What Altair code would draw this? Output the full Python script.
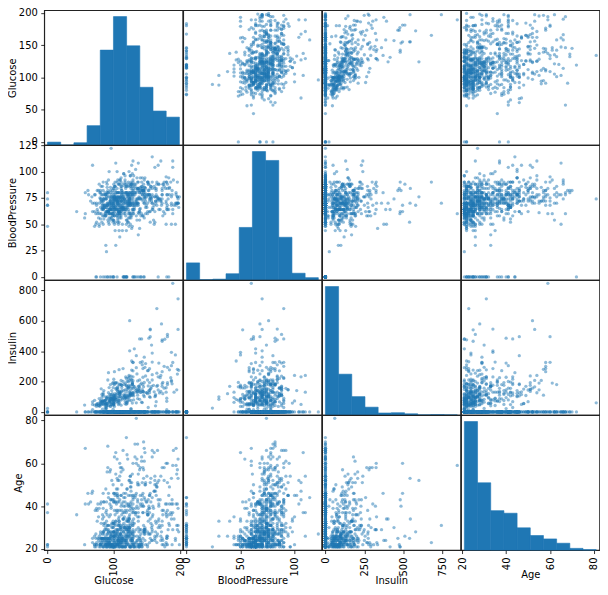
import altair as alt
import pandas as pd

alt.data_transformers.disable_max_rows()

# (Glucose, BloodPressure, Insulin, Age)
rows_a = [(148,72,0,50),(85,66,0,31),(183,64,0,32),(89,66,94,21),(137,40,168,33),(116,74,0,30),(78,50,88,26),(115,0,0,29),(197,70,543,53),(125,96,0,54),(110,92,0,30),(168,74,0,34),(139,80,0,57),(189,60,846,59),(166,72,175,51),(100,0,0,32),(118,84,230,31),(107,74,0,31),(103,30,83,33),(115,70,96,32),(126,88,235,27),(99,84,0,50),(196,90,0,41),(119,80,0,29),(143,94,146,51),(125,70,115,41),(147,76,0,43),(97,66,140,22),(145,82,110,57),(117,92,0,38),(109,75,0,60),(158,76,245,28),(88,58,54,22),(92,92,0,28),(122,78,0,45),(103,60,192,33),(138,76,0,35),(102,76,0,46),(90,68,0,27),(111,72,207,56),(180,64,70,26),(133,84,0,37),(106,92,0,48),(171,110,240,54),(159,64,0,40),(180,66,0,25),(146,56,0,29),(71,70,0,22),(103,66,0,31),(105,0,0,24),(103,80,82,22),(101,50,36,26),(88,66,23,30),(176,90,300,58),(150,66,0,42),(73,50,0,21),(187,68,304,41),(100,88,110,31),(146,82,0,44),(105,64,142,22),(84,0,0,21),(133,72,0,39),(44,62,0,36),(141,58,128,24),(114,66,0,42),(99,74,0,32),(109,88,0,38),(109,92,0,54),(95,66,38,25),(146,85,100,27),(100,66,90,28),(139,64,140,26),(126,90,0,42),(129,86,270,23),(79,75,0,22),(0,48,0,22),(62,78,0,41),(95,72,0,27),(131,0,0,26),(112,66,0,24),(113,44,0,22),(74,0,0,22),(83,78,71,36),(101,65,0,22),(137,108,0,37),(110,74,125,27),(106,72,0,45),(100,68,71,26),(136,70,110,43),(107,68,0,24),(80,55,0,21),(123,80,176,34),(81,78,48,42),(134,72,0,60),(142,82,64,21),(144,72,228,40),(92,62,0,24),(71,48,76,22),(93,50,64,23),(122,90,220,31)]
rows_b = [(163,72,40,33),(151,60,0,22),(125,96,0,21),(81,72,152,24),(85,65,140,27),(126,56,18,21),(96,122,0,27),(144,58,135,37),(83,58,18,25),(95,85,36,24),(171,72,135,24),(155,62,495,46),(89,76,37,23),(76,62,0,25),(160,54,175,39),(146,92,0,61),(124,74,0,38),(78,48,0,25),(97,60,0,22),(99,76,51,21),(162,76,100,25),(111,64,0,24),(107,74,100,23),(132,80,0,69),(113,76,0,23),(88,30,99,26),(120,70,135,30),(118,58,94,23),(117,88,145,40),(105,84,0,62),(173,70,168,33),(122,56,0,33),(170,64,225,30),(84,74,0,39),(96,68,49,26),(125,60,140,31),(100,70,50,21),(93,60,92,22),(129,80,325,29),(105,72,0,28),(128,78,0,55),(106,76,0,38),(108,52,63,22),(108,66,0,42),(154,62,284,23),(102,75,0,21),(57,80,0,41),(106,64,119,28),(147,78,0,65),(90,70,0,22),(136,74,204,24),(114,65,0,37),(156,86,155,42),(153,82,485,40),(188,78,0,43),(152,88,0,36),(99,52,94,21),(109,56,135,23),(88,74,0,22),(163,72,114,47),(151,90,0,36),(102,74,105,45),(114,80,285,34),(100,64,0,21),(131,88,0,32),(104,74,156,41),(148,66,0,22),(120,68,0,34),(110,66,0,29),(111,90,78,29),(102,82,0,36),(134,70,130,29),(87,0,0,25),(79,60,48,23),(75,64,55,33),(179,72,130,36),(85,78,0,42),(129,110,130,26),(143,78,0,45),(130,82,0,37),(87,80,0,32),(119,64,92,23),(0,74,23,21),(73,60,0,27),(141,74,0,40),(194,68,0,41),(181,68,495,60),(128,98,58,33),(109,76,114,31),(139,80,160,25),(111,62,0,21),(123,70,94,40),(159,66,0,36),(135,0,0,40),(85,55,0,42),(158,84,210,29),(105,58,0,21),(107,62,48,23),(109,64,99,26),(148,60,318,29)]
rows_c = [(113,80,0,21),(138,82,0,28),(108,68,0,32),(99,70,44,27),(103,72,190,55),(111,72,0,27),(196,76,280,57),(162,104,0,52),(96,64,87,21),(184,84,0,41),(81,60,0,25),(147,85,0,24),(179,95,0,60),(140,65,130,24),(112,82,175,36),(151,70,271,38),(109,62,129,25),(125,68,120,32),(85,74,0,32),(112,66,0,41),(177,60,478,21),(158,90,0,66),(119,0,0,37),(142,60,190,61),(100,66,56,26),(87,78,32,22),(101,76,0,26),(162,52,0,24),(197,70,744,31),(117,80,53,24),(142,86,0,22),(134,80,370,46),(79,80,37,22),(122,68,0,29),(74,68,45,23),(171,72,0,26),(181,84,192,51),(179,90,0,23),(164,84,0,32),(104,76,0,27),(91,64,0,21),(91,70,88,22),(139,54,0,22),(119,50,176,33),(146,76,194,29),(184,85,0,49),(122,68,0,41),(165,90,680,23),(124,70,402,34),(111,86,0,23),(106,52,0,42),(129,84,0,27),(90,80,55,24),(86,68,0,25),(92,62,258,44),(113,64,0,21),(111,56,0,30),(114,68,0,25),(193,50,375,24),(155,76,150,51),(191,68,130,34),(141,0,0,27),(95,70,0,24),(142,80,0,63),(123,62,0,35),(96,74,67,43),(138,0,0,25),(128,64,0,24),(102,52,0,21),(146,0,0,28),(101,86,0,38),(108,62,56,21),(122,78,0,40),(71,78,45,21),(106,70,0,52),(100,70,57,25),(106,60,0,29),(104,64,116,23),(114,74,0,57),(108,62,278,22),(146,70,0,28),(129,76,122,39),(133,88,155,37),(161,86,0,47),(108,80,0,52),(136,74,135,51),(155,84,545,34),(119,86,220,29),(96,56,49,26),(108,72,75,33),(78,88,40,21),(107,62,74,25),(128,78,182,31),(128,48,194,24),(161,50,0,65),(151,62,120,28),(146,70,360,29),(126,84,215,24),(100,78,184,46),(112,72,0,58)]
rows_d = [(167,0,0,30),(144,58,135,25),(77,82,42,35),(115,98,0,28),(150,76,0,37),(120,76,105,29),(161,68,132,47),(137,68,148,21),(128,68,180,25),(124,68,205,30),(80,66,0,41),(106,70,148,22),(155,74,96,27),(113,50,85,25),(109,80,0,43),(112,68,94,26),(99,80,64,30),(182,74,0,29),(115,66,140,28),(194,78,0,59),(129,60,231,31),(112,74,0,25),(124,70,0,36),(152,90,29,43),(112,75,0,21),(157,72,168,24),(122,64,156,30),(179,70,0,37),(102,86,120,23),(105,70,68,37),(118,72,0,46),(87,58,52,25),(180,0,0,41),(106,80,0,44),(95,60,58,22),(165,76,255,26),(117,0,0,44),(115,76,0,44),(152,78,171,33),(178,84,0,41),(130,70,105,22),(95,74,73,36),(0,68,0,22),(122,86,0,33),(95,72,0,57),(126,88,108,49),(139,46,83,22),(116,0,0,23),(99,62,74,26),(0,80,0,37),(92,80,0,29),(137,84,0,30),(61,82,0,46),(90,62,43,24),(90,78,0,21),(165,88,0,49),(125,50,167,28),(129,0,0,44),(88,74,54,48),(196,76,249,29),(189,64,325,29),(158,70,0,63),(103,108,0,65),(146,78,0,67),(147,74,293,30),(99,54,83,30),(124,72,0,29),(101,64,0,21),(81,86,66,22),(133,102,140,45),(173,82,465,25),(118,64,89,21),(84,64,66,21),(105,58,94,25),(122,52,158,28),(140,82,325,58),(98,82,84,22),(87,60,75,22),(156,75,0,32),(93,100,72,35),(107,72,82,24),(105,68,0,22),(109,60,182,21),(90,62,59,25),(125,70,110,25),(119,54,50,24),(116,74,0,35),(105,100,0,45),(144,82,285,58),(100,68,81,28),(100,66,196,42),(166,76,0,27),(131,64,415,21),(116,72,87,37),(158,78,0,31),(127,58,275,25),(96,56,115,39),(131,66,0,22),(82,70,0,25),(193,70,0,25)]
rows_e = [(95,64,0,31),(137,61,0,55),(136,84,88,35),(72,78,0,38),(168,64,0,41),(123,48,165,26),(115,72,0,46),(101,62,0,25),(197,74,0,39),(172,68,579,28),(102,90,0,28),(112,72,176,25),(143,84,310,22),(143,74,61,21),(138,60,167,21),(173,84,474,22),(97,68,0,22),(144,82,0,37),(83,68,0,27),(129,64,115,28),(119,88,170,26),(94,68,76,21),(102,64,78,21),(115,64,0,21),(151,78,210,36),(184,78,277,31),(94,0,0,25),(181,64,180,38),(135,94,145,26),(95,82,180,43),(99,0,0,23),(89,74,85,38),(80,74,60,22),(139,75,0,29),(90,68,0,36),(141,0,0,29),(140,85,0,41),(147,75,0,28),(97,70,0,21),(107,88,0,31),(189,104,0,41),(83,66,50,22),(117,64,120,24),(108,70,0,33),(117,62,0,30),(180,78,14,25),(100,72,70,28),(95,80,92,26),(104,64,64,22),(120,74,63,26),(82,64,95,23),(134,70,0,23),(91,68,210,25),(119,0,0,72),(100,54,105,24),(175,62,0,38),(135,54,0,62),(86,68,71,24),(148,84,237,51),(134,74,60,81),(120,72,56,48),(71,62,0,26),(74,70,49,39),(88,78,0,37),(115,98,0,34),(124,56,105,21),(74,52,36,22),(97,64,100,25),(120,0,0,38),(154,78,140,27),(144,82,0,28),(137,70,0,22),(119,66,0,22),(136,90,0,50),(114,64,0,24),(137,84,0,59),(105,80,191,29),(114,76,110,31),(126,74,75,39),(132,86,0,63),(158,70,328,35),(123,88,0,29),(85,58,49,28),(84,82,125,23),(145,0,0,31),(135,68,250,24),(139,62,480,21),(173,78,265,58),(99,72,0,28),(194,80,0,67),(83,65,66,24),(89,90,0,42),(99,68,0,33),(125,70,122,45),(80,0,0,22),(166,74,0,66),(110,68,0,30),(81,72,76,25),(195,70,145,55),(154,74,193,39)]
rows_f = [(117,90,71,21),(84,72,0,28),(0,68,0,41),(94,64,79,41),(96,78,0,40),(75,82,0,38),(180,90,90,35),(130,60,170,21),(84,50,76,21),(120,78,0,64),(84,72,0,46),(139,62,210,21),(91,68,0,58),(91,62,0,22),(99,54,86,24),(163,70,105,28),(145,88,165,53),(125,86,0,51),(76,60,0,41),(129,90,326,60),(68,70,66,25),(124,80,130,26),(114,0,0,26),(130,70,0,45),(125,58,0,24),(87,60,0,21),(97,64,82,21),(116,74,105,24),(117,66,188,22),(111,65,0,31),(122,60,106,22),(107,76,0,24),(86,66,65,29),(91,0,0,31),(77,56,56,24),(132,0,0,23),(105,90,0,46),(57,60,0,67),(127,80,210,23),(129,92,155,32),(100,74,215,43),(128,72,190,27),(90,85,0,56),(84,90,56,25),(88,78,76,29),(186,90,225,37),(187,76,207,53),(131,68,166,28),(164,82,67,50),(189,110,0,37),(116,70,0,21),(84,68,106,25),(114,88,0,66),(88,62,44,23),(84,64,115,28),(124,74,0,30),(97,70,0,30),(110,76,0,58),(103,68,0,42),(85,74,0,35),(125,76,0,54),(198,66,274,28),(87,68,77,24),(99,60,54,32),(91,80,0,27),(95,54,88,22),(99,72,18,21),(92,62,126,46),(154,72,126,37),(121,66,165,33),(78,70,0,39),(130,96,0,21),(111,58,44,22),(98,60,120,22),(143,86,330,23),(119,44,63,25),(108,44,130,35),(118,80,0,21),(133,68,0,36),(197,70,0,62),(151,90,0,21),(109,60,0,27),(121,78,0,62),(100,76,0,42),(124,76,600,52),(93,56,0,22),(143,78,0,41),(103,66,0,29),(176,86,156,52),(73,0,0,25),(111,84,0,45),(112,78,140,24),(132,80,0,44),(82,52,115,25),(123,72,230,34),(188,82,185,22),(67,76,0,46),(89,24,25,21),(173,74,0,38),(109,38,120,26)]
rows_g = [(108,88,0,24),(96,0,0,28),(124,74,0,30),(150,78,126,54),(183,0,0,36),(124,60,0,21),(181,78,293,22),(92,62,41,25),(152,82,272,27),(111,62,182,23),(106,54,158,24),(174,58,194,36),(168,88,321,40),(105,80,0,26),(138,74,144,50),(106,72,0,27),(117,96,0,30),(68,62,15,23),(112,82,0,50),(119,0,0,24),(112,86,160,28),(92,76,0,28),(183,94,0,45),(94,70,115,21),(108,64,0,21),(90,88,54,29),(125,68,0,21),(132,78,0,21),(128,80,0,45),(94,65,0,21),(114,64,0,34),(102,78,90,24),(111,60,0,23),(128,82,183,22),(92,62,0,31),(104,72,0,38),(104,74,0,48),(94,76,66,23),(97,76,91,32),(100,74,46,28),(102,86,105,27),(128,70,0,24),(147,80,0,50),(90,0,0,31),(103,72,152,27),(157,74,440,30),(167,74,144,33),(179,50,159,22),(136,84,130,42),(107,60,0,23),(91,54,100,23),(117,60,106,27),(123,74,77,28),(120,54,0,27),(106,70,135,22),(155,52,540,25),(101,58,90,22),(120,80,200,41),(127,106,0,51),(80,82,70,27),(162,84,0,54),(199,76,0,22),(167,106,231,43),(145,80,130,40),(115,60,0,40),(112,80,132,24),(145,82,0,70),(111,70,0,40),(98,58,190,43),(154,78,100,45),(165,68,168,49),(99,58,0,21),(68,106,49,47),(123,100,240,22),(91,82,0,68),(195,70,0,31),(156,86,0,53),(93,60,0,25),(121,52,0,25),(101,58,265,23),(56,56,45,22),(162,76,0,26),(95,64,105,22),(125,80,0,27),(136,82,0,69),(129,74,205,25),(130,64,0,22),(107,50,0,29),(140,74,180,23),(144,82,180,46),(107,80,0,34),(158,114,0,44),(121,70,95,23),(129,68,125,43),(90,60,0,25),(142,90,480,43),(169,74,125,31),(99,0,0,22),(127,88,155,28),(118,70,0,26)]
rows_h = [(122,76,200,26),(125,78,0,49),(168,88,0,52),(129,0,0,41),(110,76,100,27),(80,80,0,28),(115,0,0,30),(127,46,335,22),(164,78,0,45),(93,64,160,23),(158,64,387,24),(126,78,22,40),(129,62,0,38),(134,58,291,21),(102,74,0,32),(187,50,392,34),(173,78,185,31),(94,72,0,56),(108,60,178,24),(97,76,0,52),(83,86,0,34),(114,66,200,21),(149,68,127,42),(117,86,105,42),(111,94,0,45),(112,78,0,38),(116,78,180,25),(141,84,0,22),(175,88,0,22),(92,52,0,22),(130,78,79,34),(120,86,0,22),(174,88,120,24),(106,56,165,22),(105,75,0,53),(95,60,0,28),(126,86,120,21),(65,72,0,42),(99,60,160,21),(102,74,0,42),(120,80,150,48),(102,44,94,26),(109,58,116,22),(140,94,0,45),(153,88,140,39),(100,84,105,46),(147,94,0,27),(81,74,57,32),(187,70,200,36),(162,62,0,50),(136,70,0,22),(121,78,74,28),(108,62,0,25),(181,88,510,26),(154,78,0,45),(128,88,110,37),(137,90,0,39),(123,72,0,52),(106,76,0,26),(190,92,0,66),(88,58,16,22),(170,74,0,43),(89,62,0,33),(101,76,180,63),(122,70,0,27),(121,72,112,30),(126,60,0,47),(93,70,0,23)]

glucose_ticks = [0, 100, 200]
pressure_ticks = [0, 50, 100]
insulin_ticks = [0, 250, 500, 750]
age_ticks = [20, 40, 60, 80]
glucose_yticks = [0, 50, 100, 150, 200]
pressure_yticks = [0, 25, 50, 75, 100, 125]
insulin_yticks = [0, 200, 400, 600, 800]
age_yticks = [20, 40, 60, 80]

glucose_hist = [5, 0, 4, 32, 156, 211, 163, 95, 56, 46]
pressure_hist = [35, 1, 2, 13, 107, 261, 243, 87, 14, 5]
insulin_hist = [487, 155, 70, 30, 8, 9, 5, 1, 2, 1]
age_hist = [300, 157, 92, 86, 52, 34, 26, 16, 4, 1]

glucose_range = [0, 199]
pressure_range = [0, 122]
insulin_range = [0, 846]
age_range = [21, 81]

names = ["Glucose", "BloodPressure", "Insulin", "Age"]
df = pd.DataFrame(rows_a + rows_b + rows_c + rows_d + rows_e + rows_f + rows_g + rows_h, columns=names)

ranges = dict(zip(names, [glucose_range, pressure_range, insulin_range, age_range]))
hists = dict(zip(names, [glucose_hist, pressure_hist, insulin_hist, age_hist]))
xticks = dict(zip(names, [glucose_ticks, pressure_ticks, insulin_ticks, age_ticks]))
yticks = dict(zip(names, [glucose_yticks, pressure_yticks, insulin_yticks, age_yticks]))

BLUE = "#1f77b4"
W, H = 139.5, 136


def domain(name):
    lo, hi = ranges[name]
    pad = (hi - lo) * 0.025
    return [lo - pad, hi + pad]


def hist_frame(name):
    lo, hi = ranges[name]
    step = (hi - lo) / 10
    return pd.DataFrame({
        "start": [lo + i * step for i in range(10)],
        "end": [lo + (i + 1) * step for i in range(10)],
        "count": hists[name],
    })


def x_enc(name, field, bottom):
    axis = alt.Axis(values=xticks[name], title=name, labelAngle=270) if bottom else None
    return alt.X(f"{field}:Q", scale=alt.Scale(domain=domain(name), nice=False, zero=False), axis=axis)


def y_enc(name, left):
    axis = alt.Axis(values=yticks[name], title=name, orient="left") if left else None
    return alt.Y(f"{name}:Q", scale=alt.Scale(domain=domain(name), nice=False, zero=False), axis=axis)


def panel(xn, yn, bottom, left):
    if xn != yn:
        return alt.Chart(df).mark_circle(size=11, opacity=0.5, color=BLUE).encode(
            x=x_enc(xn, xn, bottom), y=y_enc(yn, left)
        ).properties(width=W, height=H)
    bars = alt.Chart(hist_frame(xn)).mark_rect(color=BLUE, stroke=BLUE, strokeWidth=0.6, opacity=1).encode(
        x=x_enc(xn, "start", bottom),
        x2="end:Q",
        y=alt.Y("count:Q", scale=alt.Scale(domain=[0, max(hists[xn]) * 1.05], nice=False), axis=None),
        y2=alt.datum(0),
    )
    if not left:
        return bars.properties(width=W, height=H)
    ghost = alt.Chart(df).mark_point(opacity=0).encode(y=y_enc(yn, True))
    return alt.layer(bars, ghost).resolve_scale(y="independent").properties(width=W, height=H)


panels = []
for r, yn in enumerate(names):
    for c, xn in enumerate(names):
        panels.append(panel(xn, yn, r == 3, c == 0))

chart = alt.concat(*panels, columns=4, spacing=0, align="each", bounds="flush").properties(
    padding={"left": -1.5, "top": -4, "right": -1, "bottom": -2}, background="white"
).configure_view(stroke="#222222", strokeWidth=1.2, fill="white").configure_axis(
    grid=False, domain=False, tickSize=3.5, tickWidth=0.8, tickColor="#000000",
    labelFont="DejaVu Sans", labelFontSize=10, labelColor="#000000", labelPadding=3.5,
    titleFont="DejaVu Sans", titleFontSize=10, titleFontWeight="normal", titleColor="#000000",
    labelOverlap=False, labelBound=False, labelFlush=False,
).configure_axisX(titlePadding=0).configure_axisY(titlePadding=0.8)

chart.save("out.html", embed_options={"renderer": "svg", "actions": False})
